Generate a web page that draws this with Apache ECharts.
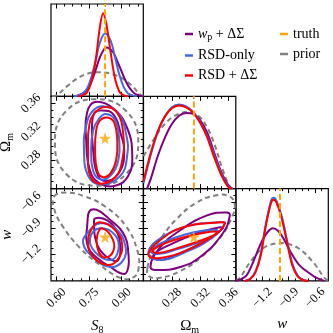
<!DOCTYPE html>
<html>
<head>
<meta charset="utf-8">
<script src="https://cdn.jsdelivr.net/npm/echarts@6/dist/echarts.min.js"></script>
<style>html,body{margin:0;padding:0;background:#fff}#chart{width:333px;height:333px}</style>
</head>
<body>
<div id="chart"></div>
<script>
// axis ranges and ticks
var s8Range = [0.575, 1.0];
var omRange = [0.24, 0.37];
var wRange = [-1.5, -0.45];
var s8Major = [0.60, 0.75, 0.90], s8Labels = ['0.60', '0.75', '0.90'];
var s8Minor = [0.6375, 0.675, 0.7125, 0.7875, 0.825, 0.8625, 0.9375, 0.975];
var omMajor = [0.28, 0.32, 0.36], omLabels = ['0.28', '0.32', '0.36'];
var omMinor = [0.25, 0.26, 0.27, 0.29, 0.30, 0.31, 0.33, 0.34, 0.35];
var wMajor = [-1.2, -0.9, -0.6], wLabels = ['\u22121.2', '\u22120.9', '\u22120.6'];
var wMinor = [-1.425, -1.35, -1.275, -1.125, -1.05, -0.975, -0.825, -0.75, -0.675, -0.525];

// truth values
var truthS8 = 0.824, truthOm = 0.311, truthW = -1.0;

// 1D marginals [value, height]
var s8Prior = [[0.58,0],[0.60,0.01],[0.65,0.11],[0.70,0.2],[0.75,0.25],[0.80,0.26],[0.85,0.245],[0.90,0.2],[0.95,0.11],[0.98,0.03],[1.0,0]];
var s8Wp = [[0.68,0],[0.70,0.01],[0.72,0.03],[0.74,0.07],[0.76,0.15],[0.78,0.28],[0.80,0.42],[0.83,0.53],[0.86,0.48],[0.88,0.38],[0.90,0.27],[0.92,0.16],[0.94,0.08],[0.96,0.03],[0.98,0.01],[1.0,0]];
var s8Rsd = [[0.68,0],[0.70,0.01],[0.72,0.03],[0.74,0.08],[0.76,0.2],[0.78,0.38],[0.80,0.58],[0.824,0.68],[0.85,0.6],[0.87,0.42],[0.89,0.23],[0.91,0.1],[0.93,0.03],[0.95,0.01],[0.97,0]];
var s8RsdDs = [[0.70,0],[0.72,0.01],[0.74,0.04],[0.76,0.15],[0.78,0.38],[0.80,0.75],[0.815,0.90],[0.83,0.78],[0.85,0.47],[0.87,0.19],[0.89,0.05],[0.91,0.01],[0.93,0]];

var omPrior = [[0.24,0.35],[0.25,0.48],[0.26,0.6],[0.27,0.7],[0.28,0.77],[0.29,0.81],[0.30,0.83],[0.31,0.82],[0.32,0.77],[0.33,0.66],[0.34,0.48],[0.35,0.24],[0.36,0.04],[0.365,0]];
var omWp = [[0.245,0],[0.25,0.1],[0.26,0.35],[0.27,0.55],[0.28,0.7],[0.29,0.79],[0.30,0.82],[0.31,0.81],[0.32,0.74],[0.33,0.6],[0.34,0.38],[0.35,0.17],[0.36,0.03],[0.365,0]];
var omRsd = [[0.24,0.06],[0.25,0.36],[0.26,0.61],[0.27,0.78],[0.28,0.88],[0.29,0.91],[0.30,0.89],[0.31,0.83],[0.32,0.72],[0.33,0.56],[0.34,0.35],[0.35,0.15],[0.36,0.02],[0.365,0]];
var omRsdDs = [[0.24,0.08],[0.25,0.38],[0.26,0.62],[0.27,0.78],[0.28,0.87],[0.29,0.90],[0.30,0.88],[0.31,0.82],[0.32,0.71],[0.33,0.55],[0.34,0.33],[0.35,0.14],[0.36,0.01],[0.365,0]];

var wPrior = [[-1.5,0],[-1.45,0.04],[-1.35,0.19],[-1.2,0.35],[-1.0,0.41],[-0.8,0.36],[-0.62,0.2],[-0.5,0.04],[-0.45,0]];
var wWp = [[-1.5,0],[-1.44,0.02],[-1.38,0.06],[-1.32,0.17],[-1.26,0.31],[-1.20,0.44],[-1.14,0.53],[-1.08,0.57],[-1.02,0.54],[-0.96,0.46],[-0.90,0.35],[-0.84,0.25],[-0.78,0.17],[-0.72,0.12],[-0.66,0.08],[-0.60,0.04],[-0.54,0.015],[-0.50,0]];
var wRsd = [[-1.40,0],[-1.34,0.02],[-1.28,0.1],[-1.22,0.29],[-1.16,0.62],[-1.10,0.87],[-1.07,0.90],[-1.04,0.87],[-0.98,0.7],[-0.92,0.44],[-0.86,0.19],[-0.80,0.06],[-0.74,0.01],[-0.68,0]];
var wRsdDs = [[-1.40,0],[-1.34,0.02],[-1.28,0.09],[-1.22,0.27],[-1.16,0.6],[-1.10,0.85],[-1.07,0.88],[-1.04,0.85],[-0.98,0.68],[-0.92,0.42],[-0.86,0.17],[-0.80,0.05],[-0.74,0.01],[-0.68,0]];

// 2D contours, S8 vs Omega_m
var s8omPrior = [[0.977,0.305],[0.922,0.349],[0.783,0.366],[0.644,0.349],[0.593,0.305],[0.644,0.261],[0.783,0.244],[0.922,0.261]];
var s8omWpOuter = [[0.778,0.362],[0.861,0.353],[0.926,0.325],[0.949,0.287],[0.931,0.258],[0.871,0.244],[0.801,0.247],[0.755,0.265],[0.737,0.308],[0.741,0.347]];
var s8omWpInner = [[0.801,0.350],[0.861,0.345],[0.898,0.315],[0.912,0.294],[0.894,0.265],[0.838,0.251],[0.792,0.258],[0.769,0.294],[0.764,0.329],[0.774,0.346]];
var s8omRsdOuter = [[0.815,0.356],[0.885,0.346],[0.922,0.315],[0.926,0.287],[0.894,0.258],[0.801,0.246],[0.746,0.258],[0.727,0.294],[0.737,0.329],[0.769,0.350]];
var s8omRsdInner = [[0.829,0.345],[0.871,0.336],[0.889,0.308],[0.885,0.280],[0.848,0.258],[0.801,0.253],[0.769,0.265],[0.760,0.294],[0.769,0.322],[0.797,0.339]];
var s8omRsdDsOuter = [[0.824,0.355],[0.880,0.347],[0.908,0.315],[0.903,0.280],[0.871,0.256],[0.801,0.247],[0.755,0.258],[0.746,0.294],[0.751,0.329],[0.778,0.347]];
var s8omRsdDsInner = [[0.834,0.340],[0.866,0.333],[0.880,0.308],[0.875,0.280],[0.848,0.261],[0.815,0.256],[0.788,0.265],[0.778,0.294],[0.783,0.322],[0.801,0.336]];

// S8 vs w
var s8wPrior = [[0.589,-0.540],[0.644,-0.495],[0.732,-0.540],[0.824,-0.653],[0.917,-0.868],[0.972,-1.150],[0.977,-1.376],[0.949,-1.466],[0.894,-1.466],[0.801,-1.319],[0.709,-1.127],[0.626,-0.868],[0.589,-0.676]];
var s8wWpOuter = [[0.764,-0.687],[0.861,-0.834],[0.917,-1.003],[0.931,-1.184],[0.931,-1.342],[0.912,-1.421],[0.848,-1.342],[0.788,-1.240],[0.746,-1.116],[0.741,-0.890]];
var s8wWpInner = [[0.778,-0.789],[0.834,-0.811],[0.880,-0.947],[0.894,-1.116],[0.885,-1.263],[0.857,-1.263],[0.801,-1.150],[0.778,-1.003],[0.774,-0.868]];
var s8wRsdOuter = [[0.801,-0.845],[0.871,-0.902],[0.917,-1.094],[0.908,-1.263],[0.848,-1.342],[0.769,-1.229],[0.723,-1.071],[0.746,-0.947]];
var s8wRsdInner = [[0.801,-0.902],[0.871,-0.981],[0.885,-1.150],[0.848,-1.263],[0.778,-1.173],[0.755,-1.015]];
var s8wRsdDsOuter = [[0.801,-0.834],[0.871,-0.924],[0.903,-1.094],[0.880,-1.263],[0.834,-1.319],[0.769,-1.229],[0.746,-1.071],[0.764,-0.902]];
var s8wRsdDsInner = [[0.811,-0.902],[0.861,-1.037],[0.857,-1.184],[0.815,-1.229],[0.788,-1.116],[0.788,-0.981]];

// Omega_m vs w
var omwPrior = [[0.2456,-1.353],[0.2526,-1.173],[0.2666,-0.992],[0.2875,-0.789],[0.3127,-0.619],[0.3407,-0.529],[0.3616,-0.540],[0.3686,-0.642],[0.3644,-0.777],[0.3504,-0.981],[0.3197,-1.240],[0.2889,-1.398],[0.2610,-1.466],[0.2470,-1.443]];
var omwWpOuter = [[0.2498,-1.342],[0.2638,-1.116],[0.2917,-0.924],[0.3295,-0.755],[0.3574,-0.721],[0.3616,-0.755],[0.3518,-0.958],[0.3197,-1.229],[0.2917,-1.342],[0.2638,-1.376]];
var omwWpInner = [[0.2540,-1.206],[0.2819,-1.071],[0.3197,-0.947],[0.3476,-0.890],[0.3518,-0.902],[0.3295,-1.037],[0.2917,-1.184],[0.2638,-1.263]];
var omwRsdOuter = [[0.2470,-1.173],[0.2638,-1.015],[0.3057,-0.868],[0.3476,-0.834],[0.3546,-0.845],[0.3379,-1.003],[0.2959,-1.184],[0.2596,-1.263]];
var omwRsdInner = [[0.2498,-1.150],[0.2819,-1.015],[0.3295,-0.924],[0.3449,-0.935],[0.3295,-1.026],[0.2875,-1.139],[0.2596,-1.195]];
var omwRsdDsOuter = [[0.2470,-1.184],[0.2596,-1.060],[0.2959,-0.890],[0.3476,-0.834],[0.3546,-0.845],[0.3435,-0.958],[0.3015,-1.150],[0.2638,-1.240],[0.2498,-1.229]];
var omwRsdDsInner = [[0.2526,-1.150],[0.2819,-1.037],[0.3295,-0.947],[0.3435,-0.947],[0.3295,-1.015],[0.2875,-1.127],[0.2596,-1.184]];

var PURPLE = '#800080', BLUE = '#4169e1', RED = '#ff0000', ORANGE = '#ffa500', GRAY = '#808080';
var FONT = 'Liberation Serif';

var dims = [
  {range: s8Range, major: s8Major, minor: s8Minor, labels: s8Labels, name: '{i|S}{sub|8}'},
  {range: omRange, major: omMajor, minor: omMinor, labels: omLabels, name: '{n|\u03a9}{sub|m}'},
  {range: wRange, major: wMajor, minor: wMinor, labels: wLabels, name: '{i|w}'}
];
var nameRich = {
  i: {fontFamily: FONT, fontStyle: 'italic', fontSize: 15, color: '#000'},
  n: {fontFamily: FONT, fontSize: 15, color: '#000'},
  sub: {fontFamily: FONT, fontSize: 10, color: '#000', padding: [8, 0, 0, 0]}
};

var L = [51, 143.5, 236], T = [4, 96.3, 188.6], SZ = 92.3;
var cells = [[0,0],[1,0],[1,1],[2,0],[2,1],[2,2]];
var grid = [], xAxis = [], yAxis = [], series = [];
var axMap = {};

function makeAxis(gi, d, pos, major, withLabel, isY) {
  var ax = {
    gridIndex: gi, type: 'value', position: pos, min: d.range[0], max: d.range[1],
    axisLine: {show: false}, splitLine: {show: false},
    axisTick: {show: true, inside: true, length: major ? 4.5 : 2.5, customValues: major ? d.major : d.minor,
               lineStyle: {color: '#000', width: 1}},
    axisLabel: {show: false}
  };
  if (withLabel) {
    ax.axisLabel = {
      show: true, customValues: d.major, rotate: 45, align: 'center', verticalAlign: 'middle',
      margin: isY ? 20 : 17, fontFamily: FONT, fontSize: 12.5, color: '#000',
      formatter: function (v) {
        for (var k = 0; k < d.major.length; k++) if (Math.abs(d.major[k] - v) < 1e-6) return d.labels[k];
        return '';
      }
    };
    ax.name = d.name;
    ax.nameLocation = 'middle';
    ax.nameGap = 36;
    ax.nameMoveOverlap = false;
    ax.nameTextStyle = {rich: nameRich, fontFamily: FONT, fontSize: 15, color: '#000'};
  }
  return ax;
}

cells.forEach(function (c, gi) {
  var r = c[0], col = c[1];
  grid.push({left: L[col], top: T[r], width: SZ, height: SZ, show: true, borderColor: '#000', borderWidth: 1.2,
             backgroundColor: 'transparent', containLabel: false, outerBoundsMode: 'none'});
  var dx = dims[col];
  var xi = xAxis.length;
  xAxis.push(makeAxis(gi, dx, 'bottom', true, r === 2, false));
  xAxis.push(makeAxis(gi, dx, 'bottom', false, false, false));
  xAxis.push(makeAxis(gi, dx, 'top', true, false, false));
  xAxis.push(makeAxis(gi, dx, 'top', false, false, false));
  var yi = yAxis.length;
  if (r === col) {
    yAxis.push({gridIndex: gi, type: 'value', min: 0, max: 1, show: false});
  } else {
    var dy = dims[r];
    yAxis.push(makeAxis(gi, dy, 'left', true, col === 0, true));
    yAxis.push(makeAxis(gi, dy, 'left', false, false, true));
    yAxis.push(makeAxis(gi, dy, 'right', true, false, true));
    yAxis.push(makeAxis(gi, dy, 'right', false, false, true));
  }
  axMap[r + '_' + col] = {x: xi, y: yi};
});

function marg(name, color, data, key, dashed) {
  var a = axMap[key];
  return {
    type: 'line', name: name, xAxisIndex: a.x, yAxisIndex: a.y, data: data, smooth: 0.35,
    symbol: 'none', clip: true, silent: true, itemStyle: {color: color},
    lineStyle: {color: color, width: 2, type: dashed ? [5, 3.5] : 'solid'}
  };
}
function contour(name, color, pts, key, dashed) {
  var a = axMap[key];
  return {
    type: 'custom', name: name, xAxisIndex: a.x, yAxisIndex: a.y, data: [pts[0]], silent: true,
    itemStyle: {color: color}, clip: true,
    encode: {x: 0, y: 1},
    renderItem: function (params, api) {
      return {
        type: 'polygon',
        shape: {points: pts.map(function (p) { return api.coord(p); }), smooth: 0.45},
        style: {fill: 'none', stroke: color, lineWidth: 2, lineDash: dashed ? [5, 3.5] : null}
      };
    }
  };
}
function truthLine(v, key) {
  var a = axMap[key];
  return {
    type: 'line', name: 'truth', xAxisIndex: a.x, yAxisIndex: a.y, data: [[v, 0], [v, 1]],
    symbol: 'none', silent: true, itemStyle: {color: ORANGE}, z: 5,
    lineStyle: {color: ORANGE, width: 2, type: [6, 3]}
  };
}
var STAR = 'path://M50,0 L61.8,35.1 L98.1,35.1 L68.7,56.7 L79.4,91 L50,69.8 L20.6,91 L31.3,56.7 L1.9,35.1 L38.2,35.1 Z';
function truthStar(x, y, key) {
  var a = axMap[key];
  return {
    type: 'scatter', name: 'truth', xAxisIndex: a.x, yAxisIndex: a.y, data: [[x, y]], silent: true,
    symbol: STAR, symbolSize: 12, itemStyle: {color: ORANGE}, z: 5
  };
}

// diagonals
series.push(marg('prior', GRAY, s8Prior, '0_0', true));
series.push(marg('wp', PURPLE, s8Wp, '0_0'));
series.push(marg('rsd', BLUE, s8Rsd, '0_0'));
series.push(marg('rsdds', RED, s8RsdDs, '0_0'));
series.push(truthLine(truthS8, '0_0'));
series.push(marg('prior', GRAY, omPrior, '1_1', true));
series.push(marg('wp', PURPLE, omWp, '1_1'));
series.push(marg('rsd', BLUE, omRsd, '1_1'));
series.push(marg('rsdds', RED, omRsdDs, '1_1'));
series.push(truthLine(truthOm, '1_1'));
series.push(marg('prior', GRAY, wPrior, '2_2', true));
series.push(marg('wp', PURPLE, wWp, '2_2'));
series.push(marg('rsd', BLUE, wRsd, '2_2'));
series.push(marg('rsdds', RED, wRsdDs, '2_2'));
series.push(truthLine(truthW, '2_2'));

// 2D panels
[
  ['1_0', s8omPrior, [s8omWpOuter, s8omWpInner], [s8omRsdOuter, s8omRsdInner], [s8omRsdDsOuter, s8omRsdDsInner], [truthS8, truthOm]],
  ['2_0', s8wPrior, [s8wWpOuter, s8wWpInner], [s8wRsdOuter, s8wRsdInner], [s8wRsdDsOuter, s8wRsdDsInner], [truthS8, truthW]],
  ['2_1', omwPrior, [omwWpOuter, omwWpInner], [omwRsdOuter, omwRsdInner], [omwRsdDsOuter, omwRsdDsInner], [truthOm, truthW]]
].forEach(function (p) {
  series.push(contour('prior', GRAY, p[1], p[0], true));
  p[2].forEach(function (pts) { series.push(contour('wp', PURPLE, pts, p[0])); });
  p[3].forEach(function (pts) { series.push(contour('rsd', BLUE, pts, p[0])); });
  p[4].forEach(function (pts) { series.push(contour('rsdds', RED, pts, p[0])); });
  series.push(truthStar(p[5][0], p[5][1], p[0]));
});

var legendNames = {
  wp: '{i|w}{sub|p} + \u0394\u03a3',
  rsd: 'RSD-only',
  rsdds: 'RSD + \u0394\u03a3',
  truth: 'truth',
  prior: 'prior'
};
var legendText = {
  fontFamily: FONT, fontSize: 14, color: '#000',
  rich: {
    i: {fontFamily: FONT, fontStyle: 'italic', fontSize: 14, color: '#000'},
    sub: {fontFamily: FONT, fontSize: 10, color: '#000', padding: [7, 0, 0, 0]}
  }
};
function legend(left, items) {
  return {
    left: left, top: 22, orient: 'vertical', icon: 'rect', itemWidth: 8, itemHeight: 2.5,
    itemGap: 6, selectedMode: false, textStyle: legendText,
    formatter: function (n) { return legendNames[n]; },
    data: items
  };
}

var chart = echarts.init(document.getElementById('chart'), null, {renderer: 'canvas'});
chart.setOption({
  backgroundColor: '#fff',
  animation: false,
  legend: [
    legend(180, [{name: 'wp', itemStyle: {color: PURPLE}}, {name: 'rsd', itemStyle: {color: BLUE}}, {name: 'rsdds', itemStyle: {color: RED}}]),
    legend(275, [{name: 'truth', itemStyle: {color: ORANGE}}, {name: 'prior', itemStyle: {color: GRAY}}])
  ],
  grid: grid,
  xAxis: xAxis,
  yAxis: yAxis,
  series: series
});
</script>
</body>
</html>
